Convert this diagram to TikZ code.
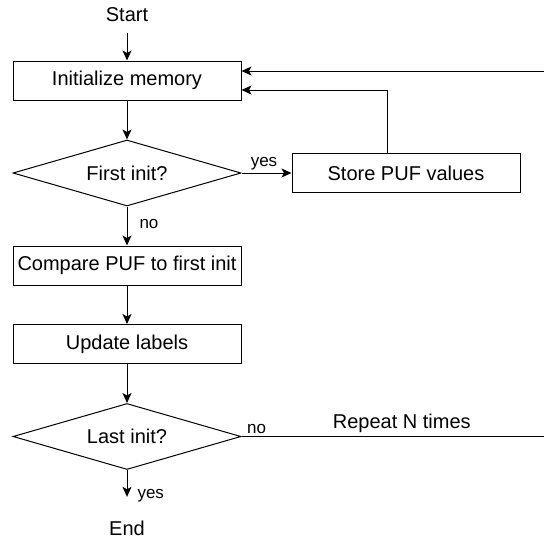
\documentclass[tikz,border=0pt]{standalone}
\usepackage{fontspec}
\setmainfont{Liberation Sans}
\usetikzlibrary{shapes.geometric, arrows.meta}

\tikzset{
    stepbox/.style={draw, rectangle, minimum width=228pt, minimum height=39pt, inner sep=0pt},
    choice/.style={draw, diamond, aspect=3.45, minimum width=228pt, minimum height=66pt, inner sep=0pt},
    arr/.style={-{Stealth[length=10pt, width=9pt, inset=2.5pt]}},
    small/.style={font=\fontsize{17}{20}\selectfont, inner sep=2pt}
}

\begin{document}
\begin{tikzpicture}[x=1pt, y=-1pt, line width=1pt, font=\fontsize{20}{24}\selectfont]
    \useasboundingbox (0,0) rectangle (544,541);

    % Start and end
    \node (start) at (127,15) {Start};
    \node (stop) at (127,528) {End};

    % Main column
    \node[stepbox] (init) at (127,80.5) {Initialize memory};
    \node[choice] (first) at (127,173) {First init?};
    \node[stepbox] (compare) at (127,265.5) {Compare PUF to first init};
    \node[stepbox] (update) at (127,344) {Update labels};
    \node[choice] (last) at (127,436.5) {Last init?};

    % Side box
    \node[stepbox] (store) at (406,173) {Store PUF values};

    % Loop ends at the right border
    \coordinate (loopin) at (544,71);
    \coordinate (loopout) at (544,436.5);
    \coordinate (storeup) at (387,154);

    % Arrows down the column
    \draw[arr, shorten <=7pt] (start) -- (init);
    \draw[arr] (init) -- (first);
    \draw[arr] (first) -- node[small, right=10pt, pos=0.45] {no} (compare);
    \draw[arr] (compare) -- (update);
    \draw[arr] (update) -- (last);
    \draw[arr, shorten >=20pt] (last) -- node[small, right=8pt, pos=0.55] {yes} (stop);

    % Branches
    \draw[arr] (first) -- node[small, above, pos=0.45] {yes} (store);
    \draw[arr] (storeup) |- ([yshift=-9.5pt]init.east);
    \draw[arr] (loopin) -- ([yshift=9.5pt]init.east);
    \draw (last.east) -- node[small, above, pos=0.05] {no}
        node[above, pos=0.53] {Repeat N times} (loopout);

\end{tikzpicture}
\end{document}
